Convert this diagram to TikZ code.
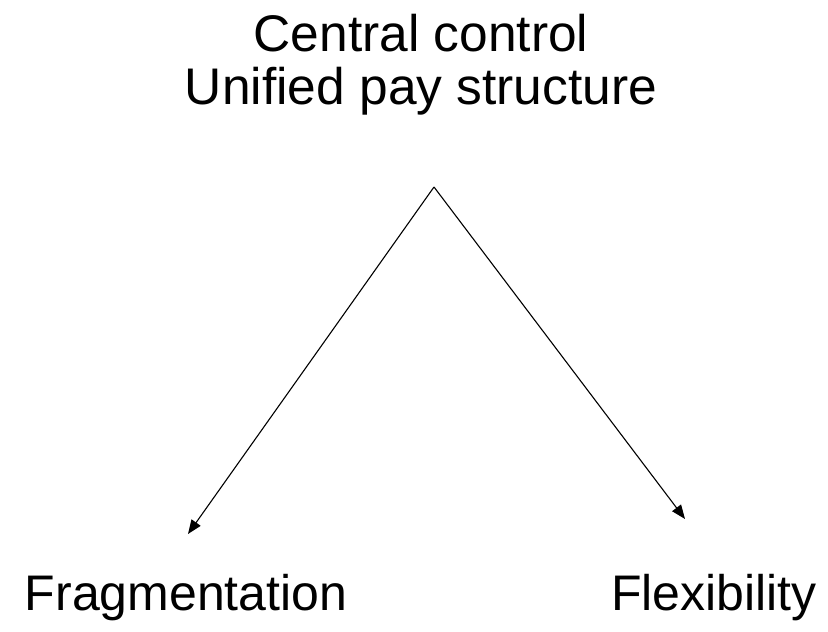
\documentclass[tikz,border=0pt]{standalone}
\usepackage{fontspec}
\setmainfont{Liberation Sans}
\usetikzlibrary{arrows.meta,positioning}

\begin{document}
\begin{tikzpicture}[x=1pt,y=1pt,
            label/.style={inner sep=0pt, anchor=base, font=\fontsize{50}{53}\selectfont},
            heading/.style={label, font=\fontsize{51.5}{53}\selectfont},
            myarrow/.style={-{Triangle[length=14pt,width=11pt]}, line width=1.1pt}]

            \useasboundingbox (0,0) rectangle (828,632);

            \node [heading] (title1) at (421,580) {Central control};
            \node [heading] (title2) at (421,527) {Unified pay structure};
            \node [label] (frag) at (186,21) {Fragmentation};
            \node [label] (flex) at (714,21) {Flexibility};

            \coordinate (apex) at (434,445);
            \coordinate (fragtip) at (188,98);
            \coordinate (flextip) at (685,113);

            \draw [myarrow] (apex) -- (fragtip);
            \draw [myarrow] (apex) -- (flextip);
        \end{tikzpicture}
\end{document}
